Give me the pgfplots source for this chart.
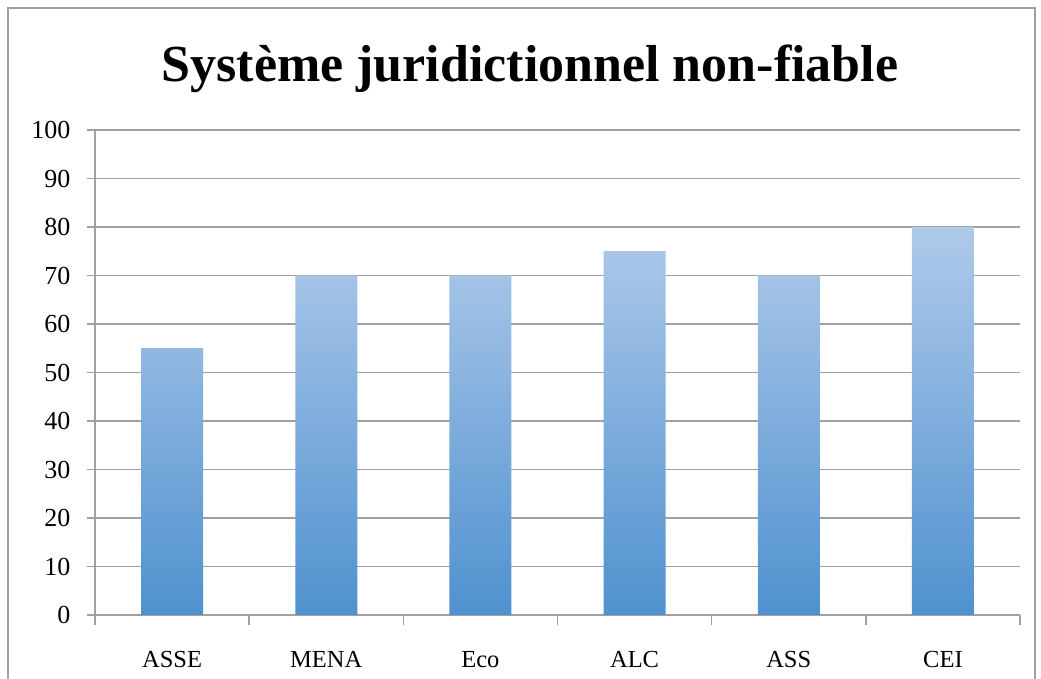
\documentclass[border=0pt]{standalone}
\usepackage{fontspec}
\setmainfont{Liberation Serif}
\usepackage{pgfplots}
\pgfplotsset{compat=1.18}
\definecolor{gridgray}{HTML}{A0A0A0}
\definecolor{bartop}{HTML}{AFCAEA}
\definecolor{barbot}{HTML}{4F91CF}
\begin{document}
\begin{tikzpicture}
\path[use as bounding box] (0pt,0pt) rectangle (1041pt,679pt);
\draw[gridgray, line width=1.5pt] (8pt,0pt) -- (8pt,671pt) -- (1035pt,671pt) -- (1035pt,0pt);
\node[font=\fontsize{52}{56}\selectfont\bfseries, anchor=base] at (530pt,597pt) {Système juridictionnel non-fiable};
\begin{axis}[
  at={(95pt,64pt)}, anchor=south west,
  scale only axis, width=925pt, height=485pt,
  xmin=0.5, xmax=6.5, ymin=0, ymax=100,
  axis x line*=bottom, axis y line*=left,
  axis line style={gridgray, line width=1.6pt, -},
  xtick={1,...,6},
  xticklabels={ASSE,MENA,Eco,ALC,ASS,CEI},
  minor xtick={0.5,1.5,...,6.5},
  ytick={0,10,...,100},
  tick align=outside,
  major tick length=8pt,
  minor tick length=10pt,
  x tick style={draw=none},
  minor x tick style={draw=gridgray, line width=1.6pt},
  y tick style={gridgray, line width=1.6pt},
  ymajorgrids,
  major grid style={gridgray, line width=1.6pt},
  /pgf/number format/assume math mode=true,
  ticklabel style={text=black},
  yticklabel style={font=\fontsize{26}{30}\selectfont, xshift=-13pt},
  xticklabel style={font=\fontsize{24.5}{28}\selectfont, anchor=base, yshift=-45pt},
  ybar, bar width=62pt,
]
\addplot[draw=none, top color=bartop, bottom color=barbot] coordinates {(1,55) (2,70) (3,70) (4,75) (5,70) (6,80)};
\end{axis}
\end{tikzpicture}
\end{document}
